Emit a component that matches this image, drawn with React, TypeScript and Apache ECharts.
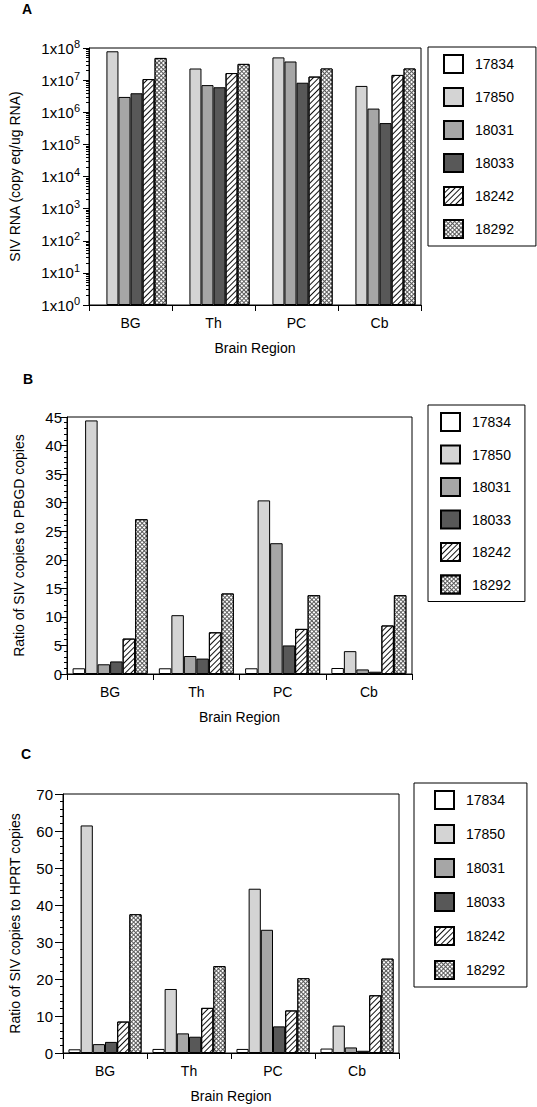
import React, { useEffect, useRef } from "react";
import * as echarts from "echarts";

const categories = ["BG", "Th", "PC", "Cb"];
const animals = ["17834", "17850", "18031", "18033", "18242", "18292"];

// Panel A: SIV RNA (copy eq/ug RNA), one row per animal, columns BG, Th, PC, Cb
const rnaA: (number | null)[][] = [
  [null, null, null, null],
  [7.9e7, 2.3e7, 5.1e7, 6.6e6],
  [3.0e6, 7.0e6, 3.8e7, 1.3e6],
  [3.9e6, 6.0e6, 8.3e6, 4.6e5],
  [1.08e7, 1.66e7, 1.29e7, 1.45e7],
  [4.9e7, 3.2e7, 2.3e7, 2.3e7],
];

// Panel B: ratio of SIV copies to PBGD copies
const ratioPBGD: number[][] = [
  [1.0, 1.0, 1.0, 1.05],
  [44.4, 10.3, 30.4, 4.0],
  [1.7, 3.15, 22.9, 0.8],
  [2.2, 2.7, 5.0, 0.4],
  [6.2, 7.3, 7.9, 8.5],
  [27.1, 14.1, 13.8, 13.8],
];

// Panel C: ratio of SIV copies to HPRT copies
const ratioHPRT: number[][] = [
  [1.0, 1.1, 1.1, 1.2],
  [61.5, 17.3, 44.4, 7.4],
  [2.4, 5.3, 33.3, 1.5],
  [3.0, 4.4, 7.2, 0.6],
  [8.5, 12.2, 11.5, 15.6],
  [37.5, 23.5, 20.2, 25.5],
];

const logExponents = [0, 1, 2, 3, 4, 5, 6, 7, 8];
const logMinorMultipliers = [2, 3, 4, 5, 6, 7, 8, 9];

const FONT = "Liberation Sans";

const itemStyles: any[] = [
  { color: "#ffffff", borderColor: "#000", borderWidth: 1 },
  { color: "#d4d4d4", borderColor: "#000", borderWidth: 1 },
  { color: "#a6a6a6", borderColor: "#000", borderWidth: 1 },
  { color: "#585858", borderColor: "#000", borderWidth: 1 },
  {
    color: "#ffffff",
    borderColor: "#000",
    borderWidth: 1,
    decal: {
      symbol: "rect",
      color: "#111",
      dashArrayX: [1, 0],
      dashArrayY: [1, 2.6],
      rotation: -Math.PI / 4,
    },
  },
  {
    color: "#5a5a5a",
    borderColor: "#000",
    borderWidth: 1,
    decal: {
      symbol: "rect",
      color: "#ffffff",
      dashArrayX: [2, 1],
      dashArrayY: [2, 1],
      rotation: Math.PI / 4,
    },
  },
];

export default function App() {
  const ref = useRef<HTMLDivElement>(null);

  useEffect(() => {
    if (!ref.current) return;
    const chart = echarts.init(ref.current, undefined, { renderer: "svg" });

    const grids = [
      { left: 77, top: 48, width: 344, height: 257 },
      { left: 67, top: 417, width: 345, height: 257 },
      { left: 53, top: 794, width: 346, height: 259 },
    ];

    const xAxisBase = (gridIndex: number) => ({
      type: "category",
      gridIndex,
      data: categories,
      name: "Brain Region",
      nameLocation: "middle",
      nameGap: 36,
      nameTextStyle: { fontSize: 14, color: "#000", fontFamily: FONT },
      axisLine: { lineStyle: { color: "#000", width: 1 } },
      axisTick: { show: true, length: 6, lineStyle: { color: "#000" } },
      axisLabel: { fontSize: 14, color: "#000", margin: 11, fontFamily: FONT },
    });

    const minorLogTicks: number[] = [];
    logExponents.slice(0, -1).forEach((e) =>
      logMinorMultipliers.forEach((m) => minorLogTicks.push(e + Math.log10(m)))
    );

    const yAxes: any[] = [
      {
        type: "log",
        gridIndex: 0,
        logBase: 10,
        min: 1,
        max: 1e8,
        interval: 1,
        name: "SIV RNA (copy eq/ug RNA)",
        nameLocation: "middle",
        nameGap: 67,
        nameTextStyle: { fontSize: 14, color: "#000", fontFamily: FONT },
        axisLine: { show: true, lineStyle: { color: "#000" } },
        axisTick: { show: true, length: 6, lineStyle: { color: "#000" } },
        splitLine: { show: false },
        axisLabel: {
          margin: 9,
          fontFamily: FONT,
          formatter: (v: number) =>
            `{b|1x10}{s|${Math.round(Math.log10(v))}}`,
          rich: {
            b: { fontSize: 15, color: "#000", fontFamily: FONT },
            s: {
              fontSize: 11,
              color: "#000",
              fontFamily: FONT,
              verticalAlign: "bottom",
              padding: [0, 0, 9, 0],
            },
          },
        },
      },
      {
        type: "value",
        gridIndex: 0,
        min: 0,
        max: 8,
        position: "left",
        axisLine: { show: false },
        axisLabel: { show: false },
        splitLine: { show: false },
        axisTick: {
          show: true,
          length: 3,
          customValues: minorLogTicks,
          lineStyle: { color: "#000" },
        },
      },
      {
        type: "value",
        gridIndex: 1,
        min: 0,
        max: 45,
        interval: 5,
        name: "Ratio of SIV copies to PBGD copies",
        nameLocation: "middle",
        nameGap: 41,
        nameTextStyle: { fontSize: 14, color: "#000", fontFamily: FONT },
        axisLine: { show: true, lineStyle: { color: "#000" } },
        axisTick: { show: true, length: 7, lineStyle: { color: "#000" } },
        minorTick: { show: true, splitNumber: 5, length: 3, lineStyle: { color: "#000" } },
        splitLine: { show: false },
        axisLabel: { fontSize: 15, color: "#000", margin: 5, fontFamily: FONT },
      },
      {
        type: "value",
        gridIndex: 2,
        min: 0,
        max: 70,
        interval: 10,
        name: "Ratio of SIV copies to HPRT copies",
        nameLocation: "middle",
        nameGap: 41,
        nameTextStyle: { fontSize: 14, color: "#000", fontFamily: FONT },
        axisLine: { show: true, lineStyle: { color: "#000" } },
        axisTick: { show: true, length: 8, lineStyle: { color: "#000" } },
        minorTick: { show: true, splitNumber: 5, length: 3, lineStyle: { color: "#000" } },
        splitLine: { show: false },
        axisLabel: { fontSize: 15, color: "#000", margin: 10, fontFamily: FONT },
      },
    ];

    const panels = [
      { data: rnaA, yAxisIndex: 0 },
      { data: ratioPBGD, yAxisIndex: 2 },
      { data: ratioHPRT, yAxisIndex: 3 },
    ];

    const series: any[] = [];
    panels.forEach((p, pi) => {
      animals.forEach((name, i) => {
        series.push({
          type: "bar",
          name,
          xAxisIndex: pi,
          yAxisIndex: p.yAxisIndex,
          data: p.data[i],
          barGap: "0%",
          barCategoryGap: "13%",
          itemStyle: itemStyles[i],
          emphasis: { disabled: true },
        });
      });
    });

    const legendBase = (left: number, top: number, padding: number[], itemGap: number) => ({
      data: animals,
      orient: "vertical",
      left,
      top,
      padding,
      itemGap,
      itemWidth: 19,
      itemHeight: 18,
      icon: "rect",
      selectedMode: false,
      borderColor: "#000",
      borderWidth: 1,
      textStyle: { fontSize: 14, color: "#000", fontFamily: FONT, padding: [0, 0, 0, 7] },
    });

    chart.setOption({
      animation: false,
      textStyle: { fontFamily: FONT },
      grid: grids.map((g) => ({
        ...g,
        show: true,
        borderColor: "#000",
        borderWidth: 1,
        backgroundColor: "transparent",
      })),
      xAxis: [xAxisBase(0), xAxisBase(1), xAxisBase(2)],
      yAxis: yAxes,
      legend: [
        legendBase(428, 47, [7, 22, 7, 15], 13),
        legendBase(428, 405, [7, 14, 7, 12], 12.5),
        legendBase(414, 783, [7, 22, 7, 20], 14),
      ],
      graphic: [
        { type: "text", left: 22, top: 2, style: { text: "A", fontSize: 14, fontWeight: "bold", fontFamily: FONT, fill: "#000" } },
        { type: "text", left: 23, top: 372, style: { text: "B", fontSize: 14, fontWeight: "bold", fontFamily: FONT, fill: "#000" } },
        { type: "text", left: 21, top: 747, style: { text: "C", fontSize: 14, fontWeight: "bold", fontFamily: FONT, fill: "#000" } },
      ],
      series,
    });

    return () => chart.dispose();
  }, []);

  return (
    <div
      ref={ref}
      style={{ position: "absolute", left: 0, top: 0, width: 537, height: 1107, background: "#fff" }}
    />
  );
}
